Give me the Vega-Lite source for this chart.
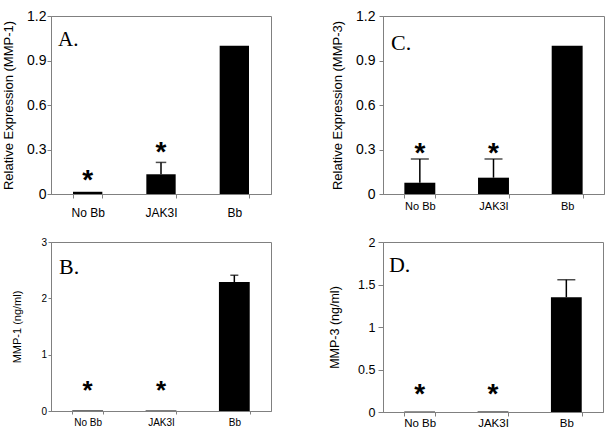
{
  "$schema": "https://vega.github.io/schema/vega-lite/v6.json",
  "padding": {"left": 1, "top": 8, "right": 5, "bottom": 5},
  "background": "white",
  "columns": 2,
  "spacing": {"row": 48, "column": 112},
  "bounds": "flush",
  "datasets": {
    "bars": [
      {"panel": "A", "cat": "No Bb", "value": 0.015, "upper": null, "star": 0.116},
      {"panel": "A", "cat": "JAK3I", "value": 0.133, "upper": 0.213, "star": 0.31},
      {"panel": "A", "cat": "Bb", "value": 1.0, "upper": null, "star": null},
      {"panel": "C", "cat": "No Bb", "value": 0.076, "upper": 0.236, "star": 0.30},
      {"panel": "C", "cat": "JAK3I", "value": 0.11, "upper": 0.236, "star": 0.30},
      {"panel": "C", "cat": "Bb", "value": 1.0, "upper": null, "star": null},
      {"panel": "B", "cat": "No Bb", "value": 0.01, "upper": null, "star": 0.42},
      {"panel": "B", "cat": "JAK3I", "value": 0.01, "upper": null, "star": 0.42},
      {"panel": "B", "cat": "Bb", "value": 2.29, "upper": 2.41, "star": null},
      {"panel": "D", "cat": "No Bb", "value": 0.005, "upper": null, "star": 0.25},
      {"panel": "D", "cat": "JAK3I", "value": 0.005, "upper": null, "star": 0.25},
      {"panel": "D", "cat": "Bb", "value": 1.35, "upper": 1.556, "star": null}
    ]
  },
  "concat": [
    {
      "width": 220, "height": 178,
      "encoding": {
        "x": {"field": "cat", "type": "nominal", "sort": ["No Bb", "JAK3I", "Bb"],
              "scale": {"paddingInner": 0.6, "paddingOuter": 0.3},
              "axis": {"title": null, "labelAngle": 0, "tickBand": "extent", "labelFontSize": 12, "tickSize": 4, "labelPadding": 9}}
      },
      "layer": [
        {"data": {"name": "bars"}, "transform": [{"filter": "datum.panel === 'A'"}],
         "mark": {"type": "bar", "color": "black"},
         "encoding": {"y": {"field": "value", "type": "quantitative", "scale": {"domain": [0, 1.2]},
            "axis": {"title": "Relative Expression (MMP-1)", "values": [0, 0.3, 0.6, 0.9, 1.2], "format": "~g", "labelFontSize": 14, "tickSize": 4, "labelPadding": 1, "titleFontSize": 13, "titlePadding": 11.5}}}},
        {"data": {"name": "bars"}, "transform": [{"filter": "datum.panel === 'A' && datum.upper != null"}],
         "mark": {"type": "rule", "color": "black", "strokeWidth": 1.5},
         "encoding": {"y": {"field": "value", "type": "quantitative"}, "y2": {"field": "upper"}}},
        {"data": {"name": "bars"}, "transform": [{"filter": "datum.panel === 'A' && datum.upper != null"}],
         "mark": {"type": "tick", "color": "black", "size": 10.5, "thickness": 1.5},
         "encoding": {"y": {"field": "upper", "type": "quantitative"}}},
        {"data": {"name": "bars"}, "transform": [{"filter": "datum.panel === 'A' && datum.star != null"}],
         "mark": {"type": "text", "text": "*", "font": "Liberation Sans", "fontWeight": "bold", "fontSize": 28, "baseline": "middle", "dy": 4.5, "color": "black"},
         "encoding": {"y": {"field": "star", "type": "quantitative"}}},
        {"data": {"values": [{"label": "A."}]},
         "mark": {"type": "text", "align": "left", "baseline": "alphabetic", "dx": -29.7, "dy": 30, "font": "Liberation Serif", "fontSize": 21, "color": "black"},
         "encoding": {"x": {"datum": "No Bb"}, "y": {"datum": 1.2}, "text": {"field": "label"}}}
      ]
    },
    {
      "width": 221, "height": 178,
      "encoding": {
        "x": {"field": "cat", "type": "nominal", "sort": ["No Bb", "JAK3I", "Bb"],
              "scale": {"paddingInner": 0.58, "paddingOuter": 0.29},
              "axis": {"title": null, "labelAngle": 0, "tickBand": "extent", "labelFontSize": 11, "tickSize": 4, "labelPadding": 2.5}}
      },
      "layer": [
        {"data": {"name": "bars"}, "transform": [{"filter": "datum.panel === 'C'"}],
         "mark": {"type": "bar", "color": "black"},
         "encoding": {"y": {"field": "value", "type": "quantitative", "scale": {"domain": [0, 1.2]},
            "axis": {"title": "Relative Expression (MMP-3)", "values": [0, 0.3, 0.6, 0.9, 1.2], "format": "~g", "labelFontSize": 14, "tickSize": 4, "labelPadding": 4, "titleFontSize": 13, "titlePadding": 11.5}}}},
        {"data": {"name": "bars"}, "transform": [{"filter": "datum.panel === 'C' && datum.upper != null"}],
         "mark": {"type": "rule", "color": "black", "strokeWidth": 1.5},
         "encoding": {"y": {"field": "value", "type": "quantitative"}, "y2": {"field": "upper"}}},
        {"data": {"name": "bars"}, "transform": [{"filter": "datum.panel === 'C' && datum.upper != null"}],
         "mark": {"type": "tick", "color": "black", "size": 18, "thickness": 1.5},
         "encoding": {"y": {"field": "upper", "type": "quantitative"}}},
        {"data": {"name": "bars"}, "transform": [{"filter": "datum.panel === 'C' && datum.star != null"}],
         "mark": {"type": "text", "text": "*", "font": "Liberation Sans", "fontWeight": "bold", "fontSize": 28, "baseline": "middle", "dy": 4.5, "color": "black"},
         "encoding": {"y": {"field": "star", "type": "quantitative"}}},
        {"data": {"values": [{"label": "C."}]},
         "mark": {"type": "text", "align": "left", "baseline": "alphabetic", "dx": -28.8, "dy": 34, "font": "Liberation Serif", "fontSize": 22, "color": "black"},
         "encoding": {"x": {"datum": "No Bb"}, "y": {"datum": 1.2}, "text": {"field": "label"}}}
      ]
    },
    {
      "width": 220, "height": 169,
      "encoding": {
        "x": {"field": "cat", "type": "nominal", "sort": ["No Bb", "JAK3I", "Bb"],
              "scale": {"paddingInner": 0.58, "paddingOuter": 0.29},
              "axis": {"title": null, "labelAngle": 0, "tickBand": "extent", "labelFontSize": 10, "tickSize": 3, "labelPadding": 3}}
      },
      "layer": [
        {"data": {"name": "bars"}, "transform": [{"filter": "datum.panel === 'B'"}],
         "mark": {"type": "bar", "color": "black"},
         "encoding": {"y": {"field": "value", "type": "quantitative", "scale": {"domain": [0, 3]},
            "axis": {"title": "MMP-1 (ng/ml)", "values": [0, 1, 2, 3], "format": "~g", "labelFontSize": 10, "tickSize": 3, "labelPadding": 1.5, "titleFontSize": 11, "titlePadding": 18.5}}}},
        {"data": {"name": "bars"}, "transform": [{"filter": "datum.panel === 'B' && datum.upper != null"}],
         "mark": {"type": "rule", "color": "black", "strokeWidth": 1.5},
         "encoding": {"y": {"field": "value", "type": "quantitative"}, "y2": {"field": "upper"}}},
        {"data": {"name": "bars"}, "transform": [{"filter": "datum.panel === 'B' && datum.upper != null"}],
         "mark": {"type": "tick", "color": "black", "size": 8, "thickness": 1.5},
         "encoding": {"y": {"field": "upper", "type": "quantitative"}}},
        {"data": {"name": "bars"}, "transform": [{"filter": "datum.panel === 'B' && datum.star != null"}],
         "mark": {"type": "text", "text": "*", "font": "Liberation Sans", "fontWeight": "bold", "fontSize": 26, "baseline": "middle", "dy": 4, "color": "black"},
         "encoding": {"y": {"field": "star", "type": "quantitative"}}},
        {"data": {"values": [{"label": "B."}]},
         "mark": {"type": "text", "align": "left", "baseline": "alphabetic", "dx": -28.7, "dy": 32, "font": "Liberation Serif", "fontSize": 22, "color": "black"},
         "encoding": {"x": {"datum": "No Bb"}, "y": {"datum": 3}, "text": {"field": "label"}}}
      ]
    },
    {
      "width": 220, "height": 170,
      "encoding": {
        "x": {"field": "cat", "type": "nominal", "sort": ["No Bb", "JAK3I", "Bb"],
              "scale": {"paddingInner": 0.58, "paddingOuter": 0.29},
              "axis": {"title": null, "labelAngle": 0, "tickBand": "extent", "labelFontSize": 11.5, "tickSize": 4, "labelPadding": 1}}
      },
      "layer": [
        {"data": {"name": "bars"}, "transform": [{"filter": "datum.panel === 'D'"}],
         "mark": {"type": "bar", "color": "black"},
         "encoding": {"y": {"field": "value", "type": "quantitative", "scale": {"domain": [0, 2]},
            "axis": {"title": "MMP-3 (ng/ml)", "values": [0, 0.5, 1, 1.5, 2], "format": "~g", "labelFontSize": 12.5, "tickSize": 5, "labelPadding": 3, "titleFontSize": 12.5, "titlePadding": 16.5}}}},
        {"data": {"name": "bars"}, "transform": [{"filter": "datum.panel === 'D' && datum.upper != null"}],
         "mark": {"type": "rule", "color": "black", "strokeWidth": 1.5},
         "encoding": {"y": {"field": "value", "type": "quantitative"}, "y2": {"field": "upper"}}},
        {"data": {"name": "bars"}, "transform": [{"filter": "datum.panel === 'D' && datum.upper != null"}],
         "mark": {"type": "tick", "color": "black", "size": 18, "thickness": 1.5},
         "encoding": {"y": {"field": "upper", "type": "quantitative"}}},
        {"data": {"name": "bars"}, "transform": [{"filter": "datum.panel === 'D' && datum.star != null"}],
         "mark": {"type": "text", "text": "*", "font": "Liberation Sans", "fontWeight": "bold", "fontSize": 28, "baseline": "middle", "dy": 4.5, "color": "black"},
         "encoding": {"y": {"field": "star", "type": "quantitative"}}},
        {"data": {"values": [{"label": "D."}]},
         "mark": {"type": "text", "align": "left", "baseline": "alphabetic", "dx": -30.7, "dy": 30, "font": "Liberation Serif", "fontSize": 22, "color": "black"},
         "encoding": {"x": {"datum": "No Bb"}, "y": {"datum": 2}, "text": {"field": "label"}}}
      ]
    }
  ],
  "config": {
    "view": {"stroke": "#808080", "strokeWidth": 1},
    "axis": {"grid": false, "domainColor": "#808080", "tickColor": "#808080", "labelColor": "black", "titleColor": "black", "labelFont": "Liberation Sans", "titleFont": "Liberation Sans", "titleFontWeight": "normal"}
  }
}
